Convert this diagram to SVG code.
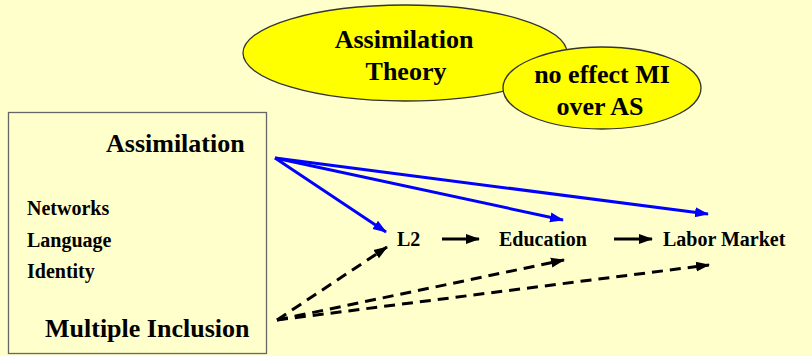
<svg xmlns="http://www.w3.org/2000/svg" width="812" height="356" viewBox="0 0 812 356">
<defs>
<marker id="ab" markerUnits="userSpaceOnUse" markerWidth="14" markerHeight="12" refX="13" refY="5" orient="auto" viewBox="0 0 14 10">
<path d="M0,0 L14,5 L0,10 Z" fill="#0000FF"/>
</marker>
<marker id="ak" markerUnits="userSpaceOnUse" markerWidth="14" markerHeight="12" refX="13" refY="5" orient="auto" viewBox="0 0 14 10">
<path d="M0,0 L14,5 L0,10 Z" fill="#000"/>
</marker>
</defs>
<rect width="812" height="356" fill="#FFFFCC"/>
<g id="theory">
<ellipse cx="405" cy="53" rx="162" ry="48" fill="#FFFF00" stroke="#333" stroke-width="1.3"/>
<text x="404" y="48" text-anchor="middle" font-family="Liberation Serif" font-size="26" font-weight="bold">Assimilation</text>
<text x="406" y="80" text-anchor="middle" font-family="Liberation Serif" font-size="26" font-weight="bold">Theory</text>
</g>
<g id="noeffect">
<ellipse cx="602" cy="88" rx="99" ry="41" fill="#FFFF00" stroke="#333" stroke-width="1.3"/>
<text x="602" y="83" text-anchor="middle" font-family="Liberation Serif" font-size="26" font-weight="bold">no effect MI</text>
<text x="600" y="115" text-anchor="middle" font-family="Liberation Serif" font-size="26" font-weight="bold">over AS</text>
</g>
<g id="box">
<rect x="8.5" y="112.5" width="258" height="241" fill="none" stroke="#666" stroke-width="1.3"/>
<text x="106" y="152" font-family="Liberation Serif" font-size="26" font-weight="bold">Assimilation</text>
<text x="27" y="215" font-family="Liberation Serif" font-size="20" font-weight="bold">Networks</text>
<text x="27" y="247" font-family="Liberation Serif" font-size="20" font-weight="bold">Language</text>
<text x="27" y="278" font-family="Liberation Serif" font-size="20" font-weight="bold">Identity</text>
<text x="45" y="337" font-family="Liberation Serif" font-size="26" font-weight="bold">Multiple Inclusion</text>
</g>
<g id="l2"><text x="397" y="246" font-family="Liberation Serif" font-size="20" font-weight="bold">L2</text></g>
<g id="education"><text x="499" y="246" font-family="Liberation Serif" font-size="20" font-weight="bold">Education</text></g>
<g id="labor"><text x="663" y="246" font-family="Liberation Serif" font-size="20" font-weight="bold">Labor Market</text></g>
<g id="connectors" fill="none" stroke-width="3">
<g stroke="#0000FF" marker-end="url(#ab)">
<line x1="275" y1="158" x2="386" y2="232"/>
<line x1="275" y1="158" x2="563" y2="220"/>
<line x1="275" y1="158" x2="708" y2="214"/>
</g>
<g stroke="#000" marker-end="url(#ak)">
<line x1="442" y1="239" x2="479" y2="239"/>
<line x1="614" y1="239" x2="652" y2="239"/>
</g>
<g stroke="#000" stroke-dasharray="11 7" marker-end="url(#ak)">
<line x1="277" y1="320" x2="387" y2="247"/>
<line x1="277" y1="320" x2="564" y2="260"/>
<line x1="277" y1="320" x2="709" y2="265"/>
</g>
</g>
</svg>
